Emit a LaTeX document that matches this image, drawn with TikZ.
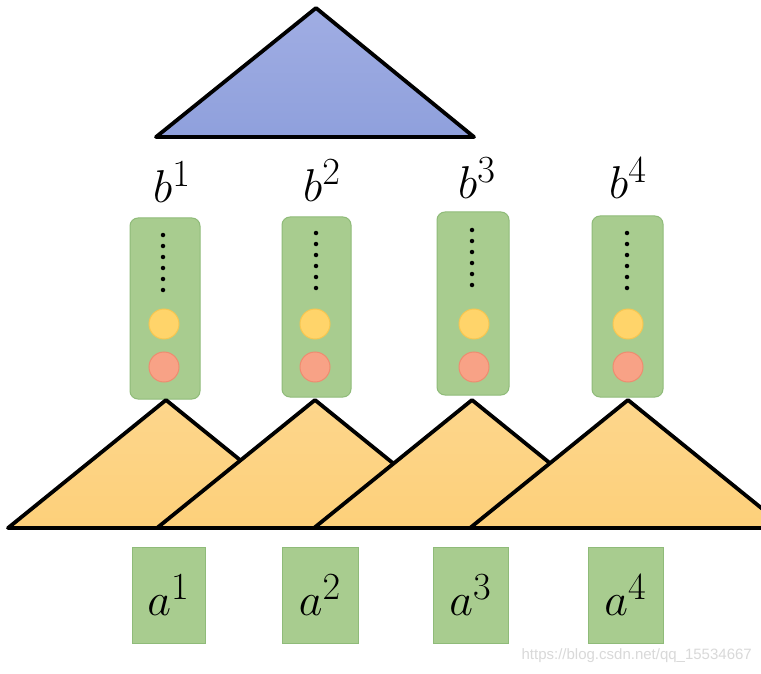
\documentclass[tikz,border=0pt]{standalone}
\usepackage{fix-cm}
\usepackage{graphicx}
\usepackage{fontspec}
\newfontfamily\wmfont{Liberation Sans}
\definecolor{bluefill}{HTML}{8FA0DC}
\definecolor{bluetop}{HTML}{A0ADE3}
\definecolor{orangefill}{HTML}{FDD07A}
\definecolor{orangetop}{HTML}{FDD68C}
\definecolor{greenfill}{HTML}{A8CC8F}
\definecolor{greenline}{HTML}{8FBB79}
\definecolor{yellowfill}{HTML}{FFD46A}
\definecolor{yellowline}{HTML}{F7C650}
\definecolor{redfill}{HTML}{F8A286}
\definecolor{redline}{HTML}{EE8C70}
\newcommand{\biglbl}[1]{\scalebox{1.85}{\Huge$#1$}}
\begin{document}
\begin{tikzpicture}[x=1pt,y=-1pt,
  tri/.style={draw=black,line width=3.8pt,line join=round},
  hbox/.style={draw=greenline,line width=1pt,fill=greenfill,rounded corners=8pt,inner sep=0pt},
  abox/.style={draw=greenline,line width=0.8pt,fill=greenfill,minimum width=75pt,minimum height=96pt,inner sep=0pt},
  blabel/.style={inner sep=0pt,anchor=base},
  ydot/.style={circle,fill=yellowfill,draw=yellowline,line width=1pt,minimum size=30pt,inner sep=0pt},
  rdot/.style={circle,fill=redfill,draw=redline,line width=1pt,minimum size=30pt,inner sep=0pt},
  sdot/.style={circle,fill=black,minimum size=4.5pt,inner sep=0pt}]
\clip (0,0) rectangle (761,674);
\fill[white] (0,0) rectangle (761,674);
% top blue triangle
\draw[tri,top color=bluetop,bottom color=bluefill] (316,8) -- (474,137) -- (156,137) -- cycle;
% b labels
\node[blabel] (b1) at (172,203) {\biglbl{b^1}};
\node[blabel] (b2) at (322,201) {\biglbl{b^2}};
\node[blabel] (b3) at (477,199) {\biglbl{b^3}};
\node[blabel] (b4) at (628,199) {\biglbl{b^4}};
% hidden vectors: index / left / right / top / bottom / dot x / first dot y / circle x
\foreach \i/\xl/\xr/\yt/\yb/\dx/\dy/\cx in {1/130/200/218/399/163/235/164, 2/282/351/217/397/316/233/315, 3/437/509/212/395/472/230/474, 4/592/663/216/397/627/233/628}{
  \path[hbox] (\xl,\yt) rectangle (\xr,\yb);
  \node[inner sep=0pt,minimum width=\xr pt-\xl pt,minimum height=\yb pt-\yt pt] (h\i) at ({(\xl+\xr)/2},{(\yt+\yb)/2}) {};
  \foreach \k in {0,...,5}{
    \node[sdot] (h\i d\k) at (\dx,\dy+11*\k) {};
  }
  \node[ydot] (h\i y) at (\cx,324) {};
  \node[rdot] (h\i r) at (\cx,367) {};
}
% orange triangles
\foreach \ax in {166,315,472,628}{
  \draw[tri,top color=orangetop,bottom color=orangefill] (\ax,400) -- (\ax+158,528) -- (\ax-158,528) -- cycle;
}
% a boxes
\node[abox,minimum width=73pt] (a1) at (168.5,595) {\biglbl{a^1}};
\node[abox,minimum width=76pt] (a2) at (320,595) {\biglbl{a^2}};
\node[abox] (a3) at (470.5,595) {\biglbl{a^3}};
\node[abox] (a4) at (625.5,595) {\biglbl{a^4}};
% watermark
\node[font=\wmfont\fontsize{15}{18}\selectfont,text=black!15,anchor=east,inner sep=0pt] (wm) at (752,656) {https://blog.csdn.net/qq\_15534667};
\end{tikzpicture}
\end{document}
